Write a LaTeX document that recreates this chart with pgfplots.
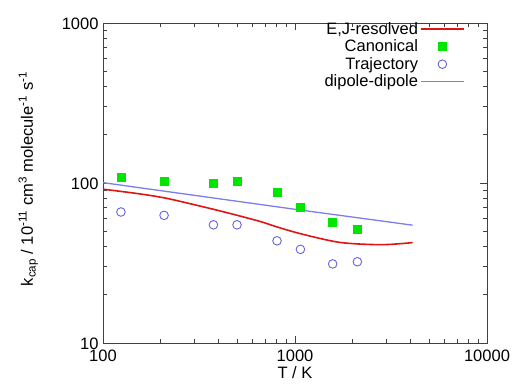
\documentclass[border=0pt]{standalone}
\usepackage{fontspec}
\setmainfont{Liberation Sans}
\usepackage{pgfplots}
\pgfplotsset{compat=1.18}
\definecolor{ejred}{RGB}{225,20,20}
\definecolor{cangreen}{RGB}{0,230,0}
\definecolor{trajblue}{RGB}{100,100,220}
\definecolor{dipblue}{RGB}{125,125,235}
\begin{document}
\begin{tikzpicture}
\useasboundingbox (-103pt,-48pt) rectangle (411pt,343pt);
\begin{axis}[
  at={(0,0)}, anchor=south west,
  scale only axis, width=384pt, height=320pt,
  xmode=log, ymode=log,
  xmin=100, xmax=10000, ymin=10, ymax=1000,
  log basis x=10, log basis y=10,
  xtick={100,1000,10000}, ytick={10,100,1000},
  minor xtick={200,300,400,500,600,700,800,900,2000,3000,4000,5000,6000,7000,8000,9000},
  minor ytick={20,30,40,50,60,70,80,90,200,300,400,500,600,700,800,900},
  xticklabels={100,1000,10000}, yticklabels={10,100,1000},
  /pgf/number format/assume math mode=true,
  tick align=inside,
  major tick length=7pt, minor tick length=4pt,
  axis line style={line width=0.9pt, black!75},
  tick style={line width=0.7pt, black!75},
  every tick label/.append style={font=\fontsize{16.5}{18}\selectfont},
  xticklabel style={yshift=-3pt},
  yticklabel style={xshift=-1pt, yshift=-1pt},
  xlabel={T / K},
  ylabel={k\textsubscript{cap} / 10\textsuperscript{-11} cm\textsuperscript{3} molecule\textsuperscript{-1} s\textsuperscript{-1}},
  label style={font=\fontsize{16.5}{18}\selectfont},
  xlabel style={yshift=2pt},
  ylabel style={yshift=17pt, xshift=4pt},
  legend style={draw=none, fill=none, at={(0.945,1.012)}, anchor=north east,
    font=\fontsize{16.5}{18}\selectfont, row sep=0.1pt, inner sep=1pt,
    nodes={inner sep=2pt}},
  legend cell align=right,
  legend plot pos=right,
  legend image code/.code={\draw[mark repeat=2,mark phase=2,#1] plot coordinates {(13pt,0pt)(34.5pt,0pt)(56pt,0pt)};},
]
\addplot[ejred, line width=1.6pt, smooth, tension=0.6] coordinates {
 (100,91.5) (150,86) (200,81.5) (250,77) (376,68.5) (500,62.8) (658,57.5)
 (800,53.3) (1061,48.3) (1585,43.2) (2000,41.8) (2661,41.2) (3200,41.4) (4100,42.4)
};
\addlegendentry{E,J-resolved}
\addplot[only marks, mark=square*, mark size=4pt, color=cangreen] coordinates {
 (125,109) (208,103) (376,100) (499,103) (806,88) (1067,71) (1571,56.5) (2112,51.4)
};
\addlegendentry{Canonical}
\addplot[only marks, mark=o, mark size=4.3pt, color=trajblue, mark options={line width=0.9pt}] coordinates {
 (124,65.9) (208,62.8) (376,54.8) (499,54.8) (806,43.5) (1067,38.5) (1571,31.2) (2112,32.2)
};
\addlegendentry{Trajectory}
\addplot[dipblue, line width=1.3pt] coordinates {
 (100,100.5) (1000,68.5) (4100,54.5)
};
\addlegendentry{dipole-dipole}
\end{axis}
\end{tikzpicture}
\end{document}
